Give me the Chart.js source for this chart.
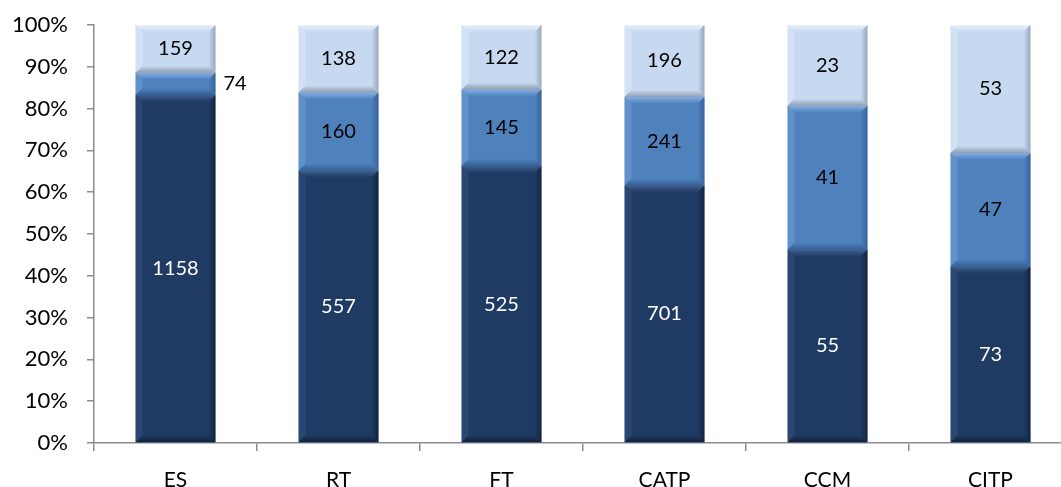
<!DOCTYPE html>
<html>
<head>
<meta charset="utf-8">
<script src="https://cdn.jsdelivr.net/npm/chart.js@4.4.1/dist/chart.umd.min.js"></script>
<style>
  html, body { margin: 0; padding: 0; background: #fff; overflow: hidden; }
  #wrap { width: 1061px; height: 487px; overflow: hidden; }
</style>
</head>
<body>
<div id="wrap"><canvas id="mycanvas" width="1075" height="487"></canvas></div>
<script>
var categories = ['ES', 'RT', 'FT', 'CATP', 'CCM', 'CITP'];
var seriesDark = [1158, 557, 525, 701, 55, 73];
var seriesMid = [74, 160, 145, 241, 41, 47];
var seriesLight = [159, 138, 122, 196, 23, 53];
var tickLabels = ['0%', '10%', '20%', '30%', '40%', '50%', '60%', '70%', '80%', '90%', '100%'];

var counts = [seriesDark, seriesMid, seriesLight];
var totals = categories.map(function (c, i) {
    return seriesDark[i] + seriesMid[i] + seriesLight[i];
});
function pct(arr) {
    return arr.map(function (v, i) { return v / totals[i] * 100; });
}

var fontFamily = 'Lato, "Open Sans", sans-serif';

// colours: base, light edge, dark edge
var palette = [
    { base: '#1f3a63', light: '#3f5f8e', dark: '#0f1e36', text: '#ffffff' },
    { base: '#4f81bd', light: '#84aee2', dark: '#2f5a90', text: '#000000' },
    { base: '#c6d9f1', light: '#eaf2fb', dark: '#8a97a8', text: '#000000' }
];

var bevelPlugin = {
    id: 'bevel',
    afterDatasetsDraw: function (chart) {
        var ctx = chart.ctx;
        chart.data.datasets.forEach(function (ds, di) {
            var meta = chart.getDatasetMeta(di);
            var col = palette[di];
            meta.data.forEach(function (bar, i) {
                var left = bar.x - bar.width / 2;
                var right = bar.x + bar.width / 2;
                var top = Math.min(bar.y, bar.base);
                var bottom = Math.max(bar.y, bar.base);
                var h = bottom - top;
                var b = Math.min(7, h / 3);
                ctx.save();
                // top bevel
                var g = ctx.createLinearGradient(0, top, 0, top + b);
                g.addColorStop(0, col.light);
                g.addColorStop(1, col.base);
                ctx.fillStyle = g;
                ctx.beginPath();
                ctx.moveTo(left, top); ctx.lineTo(right, top);
                ctx.lineTo(right - b, top + b); ctx.lineTo(left + b, top + b);
                ctx.closePath(); ctx.fill();
                // left bevel
                ctx.globalAlpha = 0.35;
                ctx.fillStyle = col.light;
                ctx.beginPath();
                ctx.moveTo(left, top); ctx.lineTo(left + b, top + b);
                ctx.lineTo(left + b, bottom - b); ctx.lineTo(left, bottom);
                ctx.closePath(); ctx.fill();
                // right bevel
                ctx.globalAlpha = 0.75;
                var gr = ctx.createLinearGradient(right - b, 0, right, 0);
                gr.addColorStop(0, col.base);
                gr.addColorStop(1, col.dark);
                ctx.fillStyle = gr;
                ctx.beginPath();
                ctx.moveTo(right, top); ctx.lineTo(right - b, top + b);
                ctx.lineTo(right - b, bottom - b); ctx.lineTo(right, bottom);
                ctx.closePath(); ctx.fill();
                // bottom bevel
                ctx.globalAlpha = 0.9;
                var gb = ctx.createLinearGradient(0, bottom - b, 0, bottom);
                gb.addColorStop(0, col.base);
                gb.addColorStop(1, col.dark);
                ctx.fillStyle = gb;
                ctx.beginPath();
                ctx.moveTo(left, bottom); ctx.lineTo(right, bottom);
                ctx.lineTo(right - b, bottom - b); ctx.lineTo(left + b, bottom - b);
                ctx.closePath(); ctx.fill();
                ctx.restore();
            });
        });
        // value labels
        ctx.save();
        ctx.font = '20px ' + fontFamily;
        ctx.textBaseline = 'middle';
        chart.data.datasets.forEach(function (ds, di) {
            var meta = chart.getDatasetMeta(di);
            meta.data.forEach(function (bar, i) {
                var h = Math.abs(bar.base - bar.y);
                var cy = (bar.y + bar.base) / 2;
                var txt = String(counts[di][i]);
                if (h < 26) {
                    ctx.fillStyle = '#000000';
                    ctx.textAlign = 'left';
                    ctx.fillText(txt, bar.x + bar.width / 2 + 8, cy);
                } else {
                    ctx.fillStyle = palette[di].text;
                    ctx.textAlign = 'center';
                    ctx.fillText(txt, bar.x, cy);
                }
            });
        });
        ctx.restore();
    }
};

var chartdata = {
    labels: categories,
    datasets: [
        { label: 'dark', data: pct(seriesDark), backgroundColor: palette[0].base },
        { label: 'mid', data: pct(seriesMid), backgroundColor: palette[1].base },
        { label: 'light', data: pct(seriesLight), backgroundColor: palette[2].base }
    ]
};

var ctx = document.getElementById('mycanvas');
var bargraph = new Chart(ctx, {
    type: 'bar',
    data: chartdata,
    plugins: [bevelPlugin],
    options: {
        responsive: false,
        animation: false,
        layout: { padding: { top: 25, right: 3, left: 0, bottom: 0 } },
        datasets: { bar: { categoryPercentage: 1, barPercentage: 0.49 } },
        plugins: { legend: { display: false }, tooltip: { enabled: false } },
        scales: {
            x: {
                stacked: true,
                border: { color: '#8c8c8c', width: 1.5 },
                grid: { offset: true, drawOnChartArea: false, tickLength: 8, color: '#8c8c8c', lineWidth: 1.5 },
                ticks: { color: '#000', font: { size: 21, family: fontFamily }, padding: 17 },
                afterFit: function (s) { s.height = 44; }
            },
            y: {
                stacked: true,
                min: 0, max: 100,
                border: { color: '#8c8c8c', width: 1.5 },
                grid: { drawOnChartArea: false, tickLength: 7, color: '#8c8c8c', lineWidth: 1.5 },
                ticks: {
                    stepSize: 10,
                    color: '#000',
                    padding: 19,
                    font: { size: 22, family: fontFamily },
                    callback: function (v) { return tickLabels[Math.round(v / 10)]; }
                },
                afterFit: function (s) {
                    s.width = 94;
                    s.paddingTop = 0;
                    s.paddingBottom = 0;
                }
            }
        }
    }
});
</script>
</body>
</html>
